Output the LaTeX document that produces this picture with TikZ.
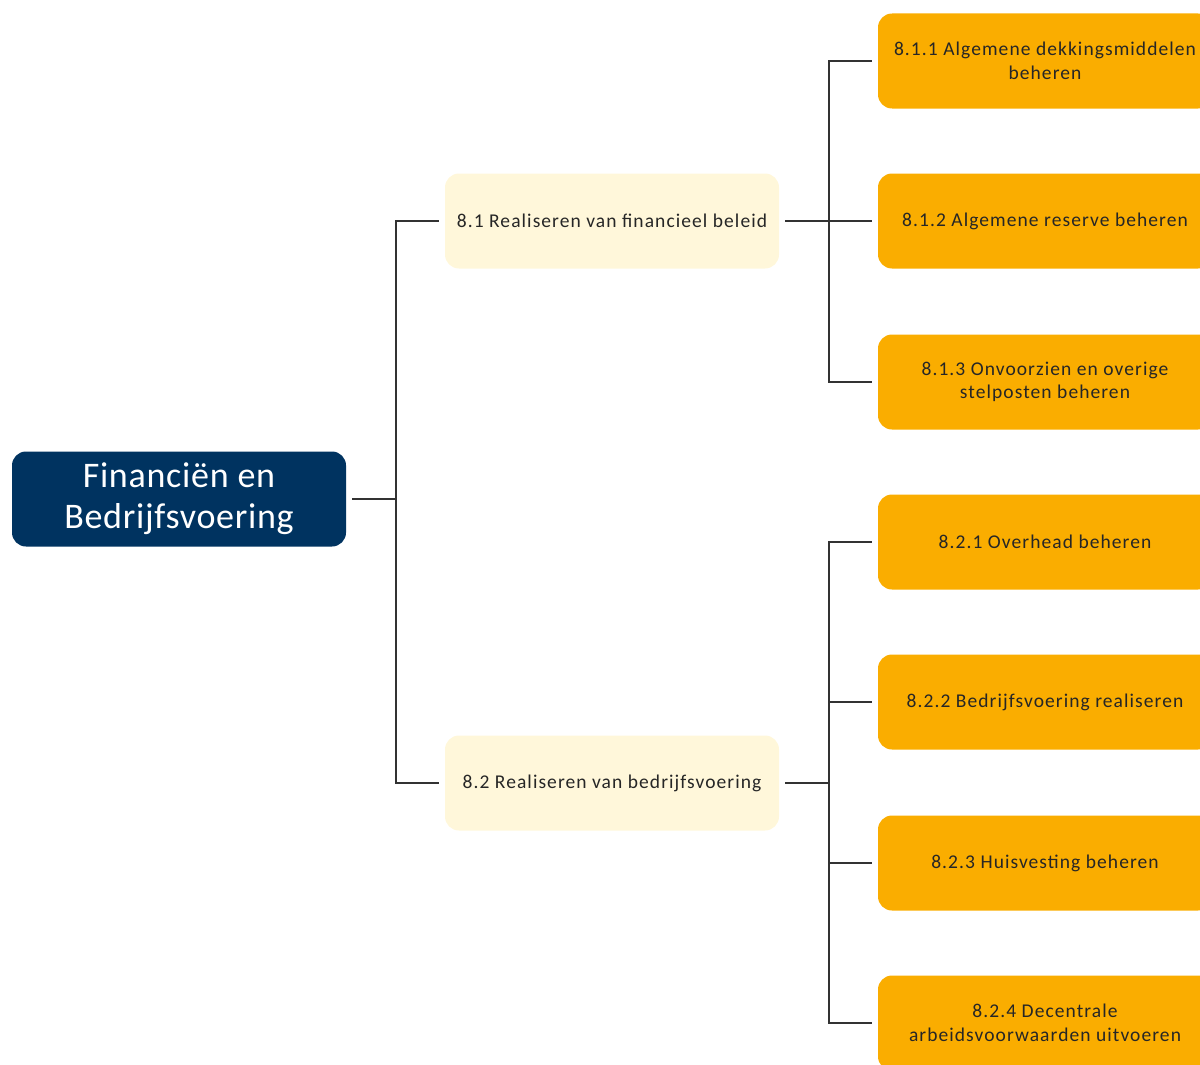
\documentclass[tikz,border=0pt]{standalone}
\usepackage{fontspec}
\setmainfont{Carlito}
\newfontfamily\rootfont[LetterSpace=2]{Carlito}
\newfontfamily\boxfont[LetterSpace=5.5]{Carlito}
\usetikzlibrary{positioning}
\definecolor{rootblue}{RGB}{0,51,96}
\definecolor{creamfill}{RGB}{255,247,218}
\definecolor{taskorange}{RGB}{250,173,0}
\definecolor{linkgray}{RGB}{50,50,50}
\tikzset{
    % Boxes
    box/.style={rounded corners=14pt,minimum width=334pt,minimum height=95pt,align=center,outer sep=6pt},
    root box/.style={box,fill=rootblue,text=white,font=\rootfont\fontsize{36}{41}\selectfont},
    goal box/.style={box,fill=creamfill,text=black!85,font=\boxfont\fontsize{19.5}{23}\selectfont},
    task box/.style={box,fill=taskorange,text=black!85,font=\boxfont\fontsize{19.5}{23.5}\selectfont},
    %
    % Connectors
    link/.style={draw=linkgray,line width=2pt}
}
\begin{document}
\begin{tikzpicture}[x=1pt,y=-1pt]
    \useasboundingbox (0,0) rectangle (1200,1065);
    \node[root box] (fin) at (179,499) {Financiën en\\Bedrijfsvoering};
    \node[goal box] (fb) at (612,221) {8.1 Realiseren van financieel beleid};
    \node[goal box] (bv) at (612,783) {8.2 Realiseren van bedrijfsvoering};
    % tasks under 8.1
    \node[task box] (adm) at (1045,61) {8.1.1 Algemene dekkingsmiddelen\\beheren};
    \node[task box] (arb) at (1045,221) {8.1.2 Algemene reserve beheren};
    \node[task box] (osb) at (1045,382) {8.1.3 Onvoorzien en overige\\stelposten beheren};
    % tasks under 8.2
    \node[task box] (ohb) at (1045,542) {8.2.1 Overhead beheren};
    \node[task box] (bvr) at (1045,702) {8.2.2 Bedrijfsvoering realiseren};
    \node[task box] (hvb) at (1045,863) {8.2.3 Huisvesting beheren};
    \node[task box] (dau) at (1045,1023) {8.2.4 Decentrale\\arbeidsvoorwaarden uitvoeren};

    \foreach \goal in {fb,bv}
        \draw[link] (fin.east) -- ++(44,0) |- (\goal.west);
    \foreach \task in {adm,arb,osb}
        \draw[link] (fb.east) -- ++(44,0) |- (\task.west);
    \foreach \task in {ohb,bvr,hvb,dau}
        \draw[link] (bv.east) -- ++(44,0) |- (\task.west);
\end{tikzpicture}
\end{document}
